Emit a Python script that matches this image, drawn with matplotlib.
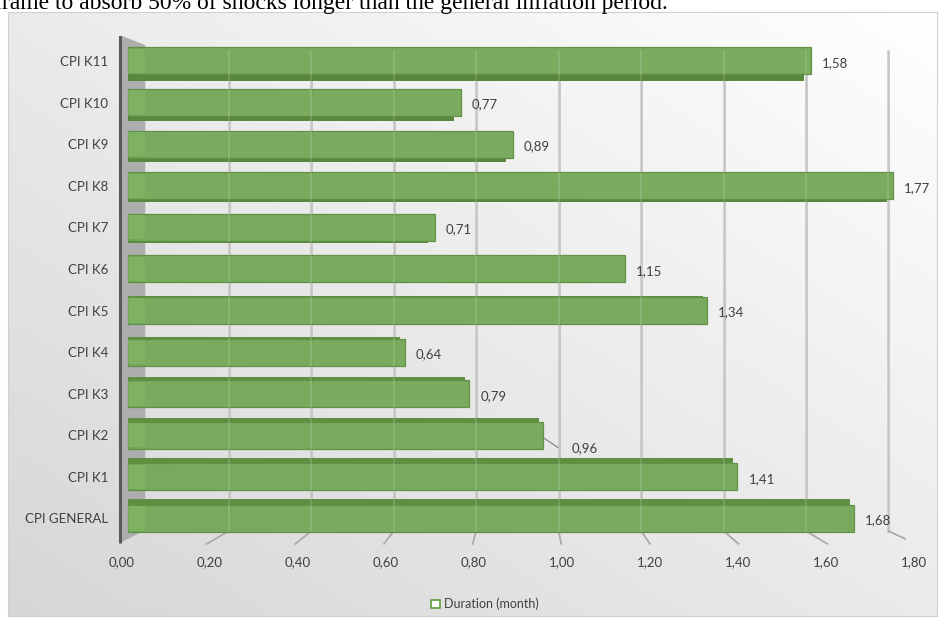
# Horizontal 3D-style bar chart: duration (month) per CPI group

import numpy as np
import matplotlib.pyplot as plt
from matplotlib.patches import Polygon, Patch
from matplotlib.transforms import ScaledTranslation

plt.rcParams['font.family'] = ['Lato', 'DejaVu Sans']

# data (bottom to top)
categories = ["CPI GENERAL", "CPI K1", "CPI K2", "CPI K3", "CPI K4", "CPI K5",
              "CPI K6", "CPI K7", "CPI K8", "CPI K9", "CPI K10", "CPI K11"]
durations = [1.68, 1.41, 0.96, 0.79, 0.64, 1.34, 1.15, 0.71, 1.77, 0.89, 0.77, 1.58]
ticks = [0.0, 0.2, 0.4, 0.6, 0.8, 1.0, 1.2, 1.4, 1.6, 1.8]
tick_labels = ["0,00", "0,20", "0,40", "0,60", "0,80", "1,00", "1,20", "1,40", "1,60", "1,80"]
legend_label = "Duration (month)"
caption = "frame to absorb 50% of shocks longer than the general inflation period."

W, H = 939, 618
fig = plt.figure(figsize=(W / 100, H / 100), dpi=100)

# text line cut at the top of the picture (as in the source page)
fig.text(-6 / W, 1 - 9 / H, caption, family=['Liberation Serif', 'DejaVu Serif'],
         fontsize=17, va='baseline', ha='left', color='black')

# chart frame with light grey gradient
bg = fig.add_axes([8 / W, 2 / H, 929 / W, (616 - 11.5) / H])
gx, gy = np.meshgrid(np.linspace(0, 1, 200), np.linspace(0, 1, 200))
shade = 1 - 0.16 * ((1 - gx) * 0.5 + gy * 0.5)   # row 0 is the top
bg.imshow(np.dstack([shade] * 3), extent=[0, 1, 0, 1], aspect='auto')
bg.set_xticks([])
bg.set_yticks([])
for s in bg.spines.values():
    s.set_color('#d0d0d0')

ax = fig.add_axes([115 / W, 1 - 547.6 / H, 791 / W, (547.6 - 36) / H])
ax.patch.set_visible(False)
ax.set_xlim(-0.03, 1.8)
ax.set_ylim(-0.7, 11.6)
for s in ax.spines.values():
    s.set_visible(False)

# left wall
wall = Polygon([(-0.0185, 11.62), (0.04, 11.38), (0.04, -0.28), (-0.0185, -0.59)],
               closed=True, facecolor='#adadad', edgecolor='none', zorder=1)
ax.add_patch(wall)
ax.plot([-0.0185, -0.0185], [-0.59, 11.62], color='#595959', lw=2.2, zorder=2,
        solid_capstyle='butt')

# gridlines on the back wall + small floor ticks
for v in ticks[1:]:
    xb = 0.043 + 0.9535 * v
    xf = -0.023 + 1.0255 * v
    ax.plot([xb, xb], [-0.3, 11.25], color='#bdbdbd', lw=1.8, zorder=1)
    ax.plot([xb, xf], [-0.3, -0.61], color='#a6a6a6', lw=1.2, zorder=1)

# bars (front face + darker top/bottom face)
pos = np.arange(len(categories))
h = 0.65
for i, v in zip(pos, durations):
    t = 0.15 * abs(i - 5.5) / 5.5
    if i < 5.5:
        ax.barh(i + h / 2 + t / 2, v - 0.01, height=t, color='#5f8f42',
                edgecolor='none', zorder=3)
    else:
        ax.barh(i - h / 2 - t / 2, v - 0.015, height=t, color='#5a8740',
                edgecolor='none', zorder=3)
ax.barh(pos, durations, height=h, color='#74a756', edgecolor='#5d8f40',
        lw=0.9, alpha=0.95, zorder=4)
ax.barh(pos, [0.04] * len(pos), height=h * 0.9, color='#86b96a', edgecolor='none',
        alpha=0.6, zorder=4)

# gridlines faintly showing through the bars
for v in ticks[1:]:
    xb = 0.043 + 0.9535 * v
    ax.plot([xb, xb], [-0.3, 11.25], color='white', lw=1.2, alpha=0.18, zorder=5)

# data labels
for i, v in zip(pos, durations):
    txt = f"{v:.2f}".replace('.', ',')
    if categories[i] == "CPI K2":
        ax.annotate(txt, xy=(v, i - 0.05), xytext=(29, -11), textcoords='offset pixels',
                    ha='left', va='center', fontsize=9.5, color='#404040', zorder=6,
                    arrowprops=dict(arrowstyle='-', color='#7f7f7f', lw=0.8,
                                    relpos=(0, 0.5), shrinkA=8, shrinkB=0,
                                    connectionstyle="angle,angleA=0,angleB=-34,rad=0"))
    else:
        ax.annotate(txt, xy=(v, i), xytext=(11, -2), textcoords='offset pixels',
                    ha='left', va='center', fontsize=9.5, color='#404040', zorder=6)

# axes labels
ax.set_yticks(pos, categories)
ax.set_xticks(ticks, tick_labels)
ax.tick_params(axis='y', length=0, pad=5, labelsize=9.5, labelcolor='#404040')
ax.tick_params(axis='x', length=0, pad=6, labelsize=9.5, labelcolor='#404040')
for v, lab in zip(ticks, ax.get_xticklabels()):
    dx = (-6 + 7.8 * v) / 100
    lab.set_transform(lab.get_transform() + ScaledTranslation(dx, 0, fig.dpi_scale_trans))

fig.legend(handles=[Patch(facecolor='white', edgecolor='#5e9c3a', lw=1.2, label=legend_label)],
           loc='center', bbox_to_anchor=(485 / W, 1 - 604 / H), frameon=False,
           handlelength=0.7, handleheight=0.7, handletextpad=0.3, fontsize=9,
           labelcolor='#404040')

plt.savefig("out.png", dpi=100)
